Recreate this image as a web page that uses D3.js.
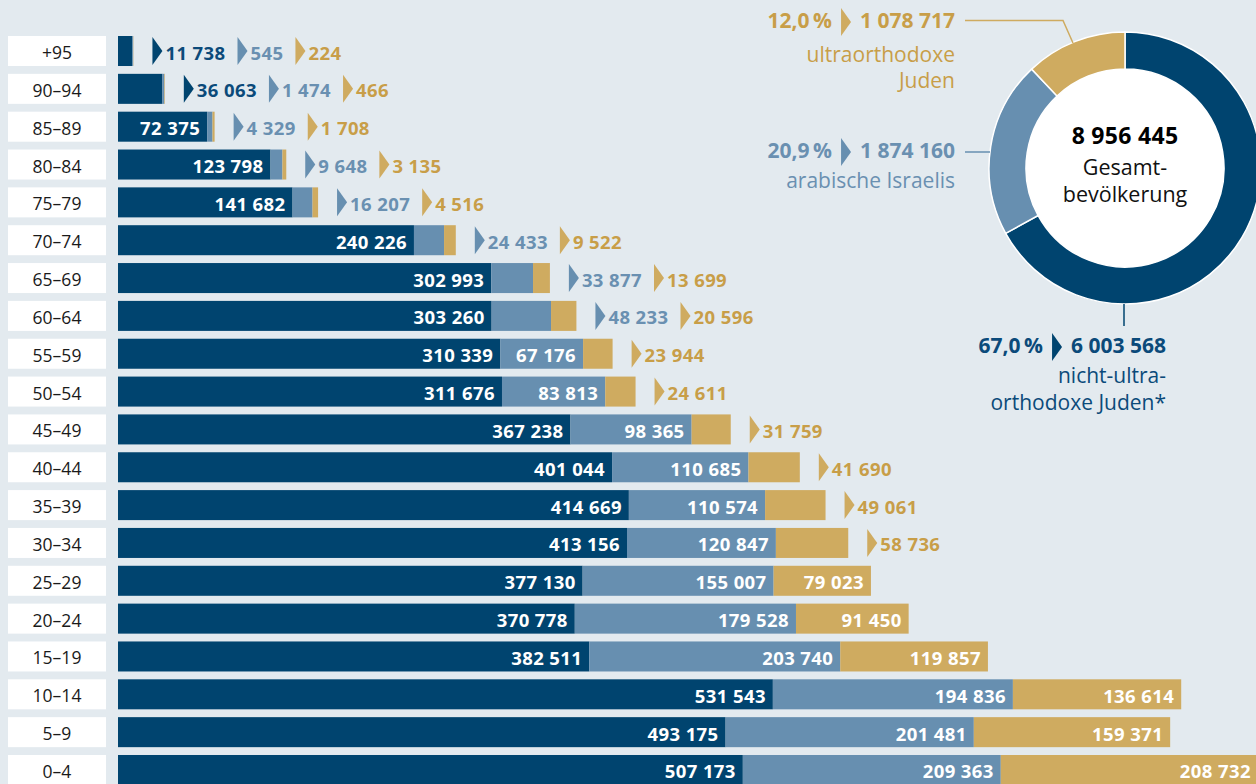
<!DOCTYPE html>
<html>
<head>
<meta charset="utf-8">
<script src="https://cdn.jsdelivr.net/npm/d3@7"></script>
<style>
  body { margin: 0; background: #e3eaef; }
  svg { display: block; font-family: "Open Sans", "Noto Sans", sans-serif; }
</style>
</head>
<body>
<div id="chart"></div>
<script>
// age groups, top to bottom
let ages = ["+95", "90–94", "85–89", "80–84", "75–79", "70–74", "65–69", "60–64", "55–59", "50–54",
            "45–49", "40–44", "35–39", "30–34", "25–29", "20–24", "15–19", "10–14", "5–9", "0–4"];

// population per age group
let nonUltra = [11738, 36063, 72375, 123798, 141682, 240226, 302993, 303260, 310339, 311676,
                367238, 401044, 414669, 413156, 377130, 370778, 382511, 531543, 493175, 507173];
let arab = [545, 1474, 4329, 9648, 16207, 24433, 33877, 48233, 67176, 83813,
            98365, 110685, 110574, 120847, 155007, 179528, 203740, 194836, 201481, 209363];
let ultra = [224, 466, 1708, 3135, 4516, 9522, 13699, 20596, 23944, 24611,
             31759, 41690, 49061, 58736, 79023, 91450, 119857, 136614, 159371, 208732];

// totals for the donut
let groupTotals = [6003568, 1874160, 1078717];
let groupShares = ["67,0", "20,9", "12,0"];
let grandTotal = 8956445;

let barColors = ["#00446f", "#678fb0", "#cfab60"];
let textColors = ["#0b4a7a", "#6a90b1", "#c89e48"];

let svgWidth = 1256;
let svgHeight = 784;

let fmt = n => d3.format(",")(n).replace(/,/g, " ");

let svg = d3.select("#chart")
  .append("svg")
  .attr("width", svgWidth)
  .attr("height", svgHeight);

svg.append("rect")
  .attr("width", svgWidth)
  .attr("height", svgHeight)
  .attr("fill", "#e3eaef");

let x = d3.scaleLinear().domain([0, 1000000]).range([118, 118 + 1232]);
let y = d3.scaleBand().domain(ages).range([36, 785]).paddingInner(0.207);

let rows = ages.map((a, i) => ({ age: a, s0: nonUltra[i], s1: arab[i], s2: ultra[i] }));
let stacked = d3.stack().keys(["s0", "s1", "s2"])(rows);

// label boxes
let boxes = svg.append("g");
boxes.selectAll("rect")
  .data(ages)
  .enter()
  .append("rect")
  .attr("x", 8)
  .attr("width", 98)
  .attr("y", d => y(d))
  .attr("height", y.bandwidth())
  .attr("fill", "#fff");
boxes.selectAll("text")
  .data(ages)
  .enter()
  .append("text")
  .attr("x", 57)
  .attr("y", d => y(d) + y.bandwidth() / 2 + 1)
  .attr("text-anchor", "middle")
  .attr("dominant-baseline", "central")
  .attr("font-size", 17.5)
  .attr("fill", "#1a1a1a")
  .text(d => d);

// bars
svg.append("g")
  .selectAll("g")
  .data(stacked)
  .enter()
  .append("g")
  .attr("fill", (d, i) => barColors[i])
  .selectAll("rect")
  .data(d => d)
  .enter()
  .append("rect")
  .attr("x", d => x(d[0]))
  .attr("width", d => x(d[1]) - x(d[0]))
  .attr("y", d => y(d.data.age))
  .attr("height", y.bandwidth());

// value labels: inside if they fit, else after the bar with a marker
let labels = svg.append("g")
  .attr("font-size", 18.5)
  .attr("font-weight", 700)
  .attr("letter-spacing", 0.4);
rows.forEach((r, ri) => {
  let top = y(r.age);
  let cy = top + y.bandwidth() / 2 + 1;
  let cursor = x(r.s0 + r.s1 + r.s2) + 19;
  [0, 1, 2].forEach(k => {
    let x0 = x(stacked[k][ri][0]);
    let x1 = x(stacked[k][ri][1]);
    let t = labels.append("text")
      .attr("dominant-baseline", "central")
      .attr("y", cy)
      .text(fmt(stacked[k][ri].data["s" + k]));
    let w = t.node().getComputedTextLength();
    if (w + 18 <= x1 - x0) {
      t.attr("x", x1 - 7).attr("text-anchor", "end").attr("fill", "#fff");
    } else {
      labels.append("path")
        .attr("d", `M${cursor},${top + 1}L${cursor + 10},${top + 15}L${cursor},${top + 29}Z`)
        .attr("fill", barColors[k]);
      t.attr("x", cursor + 13).attr("fill", textColors[k]);
      cursor += 13 + w + 12;
    }
  });
});

// donut
let cx = 1125, cy = 168;
let pie = d3.pie().sort(null).value(d => d);
let arc = d3.arc().innerRadius(99).outerRadius(136);
let donut = svg.append("g").attr("transform", `translate(${cx},${cy})`);
donut.selectAll("path")
  .data(pie(groupTotals))
  .enter()
  .append("path")
  .attr("d", arc)
  .attr("fill", (d, i) => barColors[i])
  .attr("stroke", "#fff")
  .attr("stroke-width", 1.5);
donut.append("circle").attr("r", 99).attr("fill", "#fff");
donut.append("text")
  .attr("y", -24)
  .attr("text-anchor", "middle")
  .attr("font-size", 23)
  .attr("font-weight", 700)
  .attr("letter-spacing", 0.3)
  .attr("fill", "#000")
  .text(fmt(grandTotal));
donut.append("text")
  .attr("y", 7)
  .attr("text-anchor", "middle")
  .attr("font-size", 21.5)
  .attr("fill", "#111")
  .text("Gesamt-");
donut.append("text")
  .attr("y", 34)
  .attr("text-anchor", "middle")
  .attr("font-size", 21.5)
  .attr("fill", "#111")
  .text("bevölkerung");

// callouts
function callout(k, xRight, base, lines, lineBases, leader) {
  let g = svg.append("g").attr("fill", textColors[k]);
  let num = g.append("text")
    .attr("x", xRight)
    .attr("y", base)
    .attr("text-anchor", "end")
    .attr("font-size", 21)
    .attr("font-weight", 700)
    .text(fmt(groupTotals[k]));
  let w = num.node().getComputedTextLength();
  let tx = xRight - w - 19;
  g.append("path")
    .attr("d", `M${tx},${base - 20}L${tx + 10},${base - 6}L${tx},${base + 8}Z`)
    .attr("fill", barColors[k]);
  g.append("text")
    .attr("x", tx - 9)
    .attr("y", base)
    .attr("text-anchor", "end")
    .attr("font-size", 21)
    .attr("font-weight", 700)
    .text(groupShares[k] + "\u2009%");
  lines.forEach((l, i) => {
    g.append("text")
      .attr("x", xRight)
      .attr("y", lineBases[i])
      .attr("text-anchor", "end")
      .attr("font-size", 21)
      .text(l);
  });
  svg.append("path")
    .attr("d", d3.line()(leader))
    .attr("fill", "none")
    .attr("stroke", barColors[k])
    .attr("stroke-width", 1.5);
}

callout(2, 955, 28, ["ultraorthodoxe", "Juden"], [62, 88], [[965, 20.5], [1063, 20.5], [1073, 43]]);
callout(1, 955, 158, ["arabische Israelis"], [188], [[965, 152], [990, 152]]);
callout(0, 1166, 353, ["nicht-ultra-", "orthodoxe Juden*"], [383, 410], [[1124, 304], [1124, 326]]);
</script>
</body>
</html>
